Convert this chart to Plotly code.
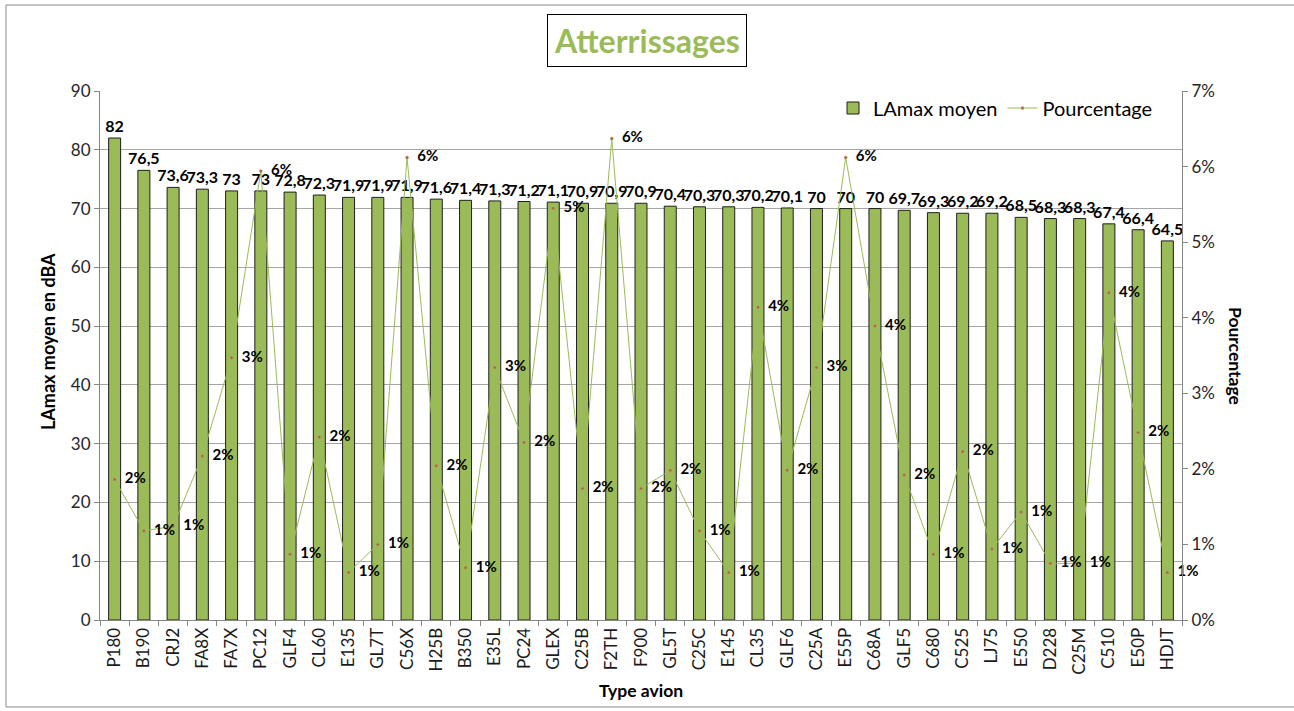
import plotly.graph_objects as go

# Aircraft types, sorted by mean LAmax
types_avion = ["P180", "B190", "CRJ2", "FA8X", "FA7X", "PC12", "GLF4", "CL60", "E135", "GL7T",
               "C56X", "H25B", "B350", "E35L", "PC24", "GLEX", "C25B", "F2TH", "F900", "GL5T",
               "C25C", "E145", "CL35", "GLF6", "C25A", "E55P", "C68A", "GLF5", "C680", "C525",
               "LJ75", "E550", "D228", "C25M", "C510", "E50P", "HDJT"]

# Mean LAmax per type (dBA)
lamax_moyen = [82, 76.5, 73.6, 73.3, 73, 73, 72.8, 72.3, 71.9, 71.9,
               71.9, 71.6, 71.4, 71.3, 71.2, 71.1, 70.9, 70.9, 70.9, 70.4,
               70.3, 70.3, 70.2, 70.1, 70, 70, 70, 69.7, 69.3, 69.2,
               69.2, 68.5, 68.3, 68.3, 67.4, 66.4, 64.5]

# Share of landings per type
pourcentage = [0.0186, 0.0118, 0.0124, 0.0217, 0.0347, 0.0594, 0.0087, 0.0242, 0.0063, 0.0100,
               0.0612, 0.0204, 0.0069, 0.0334, 0.0235, 0.0545, 0.0174, 0.0637, 0.0174, 0.0198,
               0.0118, 0.0063, 0.0414, 0.0198, 0.0334, 0.0612, 0.0389, 0.0192, 0.0087, 0.0223,
               0.0094, 0.0143, 0.0075, 0.0075, 0.0433, 0.0248, 0.0063]

FONT = "Lato"
GREEN = "#9BBB59"
RED = "#C0504D"
GRID = "#A6A6A6"
AXIS = "#868686"
NBSP = "\u00a0"

bar_labels = [f"{v:g}".replace(".", ",") for v in lamax_moyen]

fig = go.Figure()

fig.add_trace(go.Bar(
    x=types_avion, y=lamax_moyen, name="LAmax moyen",
    marker=dict(color=GREEN, line=dict(color="#1E1E1E", width=1)),
    text=bar_labels, textposition="outside", constraintext="none",
    textfont=dict(family=FONT, size=16, color="#000000", weight="bold"),
    cliponaxis=False,
))

fig.add_trace(go.Scatter(
    x=types_avion, y=pourcentage, name="Pourcentage", yaxis="y2",
    mode="lines+markers+text",
    line=dict(color=GREEN, width=1),
    marker=dict(color=RED, size=3, line=dict(color=GREEN, width=0.5)),
    texttemplate=NBSP * 2 + "%{y:.0%}", textposition="middle right",
    textfont=dict(family=FONT, size=15, color="#000000", weight="bold"),
    cliponaxis=False,
))

L, R, T, B = 100, 112, 91, 91
W, H = 1294, 711
pw, ph = W - L - R, H - T - B

def px(xpix):
    return (xpix - L) / pw

def py(ypix):
    return (H - B - ypix) / ph

fig.update_layout(
    width=W, height=H,
    margin=dict(l=L, r=R, t=T, b=B, autoexpand=False),
    paper_bgcolor="white", plot_bgcolor="white",
    font=dict(family=FONT, size=17, color="#262626"),
    bargap=0.59,
    showlegend=True,
    legend=dict(orientation="h", x=px(1158), y=py(108), xanchor="right", yanchor="middle",
                font=dict(family=FONT, size=20, color="#000000"), bgcolor="rgba(255,255,255,0)",
                itemwidth=30, tracegroupgap=0),
    xaxis=dict(
        type="category", range=[-0.5, len(types_avion) - 0.5],
        showline=True, linecolor=AXIS, linewidth=1, automargin=False,
        ticks="outside", tickson="boundaries", ticklen=5, tickcolor=AXIS,
        tickangle=-90, tickfont=dict(family=FONT, size=17, color="#1A1A1A"),
        showgrid=False,
    ),
    yaxis=dict(
        range=[0, 90], dtick=10, showgrid=True, gridcolor=GRID, gridwidth=1,
        showline=True, linecolor=AXIS, linewidth=1, zeroline=False, automargin=False,
        ticks="outside", ticklen=5, tickcolor=AXIS,
        tickfont=dict(family=FONT, size=17, color="#262626"),
    ),
    yaxis2=dict(
        range=[0, 0.07], dtick=0.01, tickformat=".0%", overlaying="y", side="right",
        showgrid=False, showline=True, linecolor=AXIS, linewidth=1, zeroline=False,
        automargin=False, ticks="outside", ticklen=5, tickcolor=AXIS,
        tickfont=dict(family=FONT, size=17, color="#262626"),
    ),
    separators=",.",
)

fig.add_annotation(
    text="Atterrissages", xref="paper", yref="paper", x=px(647), y=py(41),
    xanchor="center", yanchor="middle",
    showarrow=False, font=dict(family=FONT, size=32, color=GREEN, weight="bold"),
    bordercolor="#000000", borderwidth=1, borderpad=6, bgcolor="white",
)
fig.add_annotation(
    text="LAmax moyen en dBA", xref="paper", yref="paper", x=px(48), y=py(342),
    xanchor="center", yanchor="middle",
    showarrow=False, textangle=-90, font=dict(family=FONT, size=18, color="#000000", weight="bold"),
)
fig.add_annotation(
    text="Pourcentage", xref="paper", yref="paper", x=px(1236), y=py(356),
    xanchor="center", yanchor="middle",
    showarrow=False, textangle=90, font=dict(family=FONT, size=17.5, color="#000000", weight="bold"),
)
fig.add_annotation(
    text="Type avion", xref="paper", yref="paper", x=px(641), y=py(690),
    xanchor="center", yanchor="middle",
    showarrow=False, font=dict(family=FONT, size=17.5, color="#000000", weight="bold"),
)

# Chart frame
fig.add_shape(type="rect", xref="paper", yref="paper",
              x0=px(6), x1=px(1300), y0=py(707), y1=py(5),
              line=dict(color="#898989", width=1), fillcolor="rgba(0,0,0,0)", layer="below")

fig.write_html("out.html")
